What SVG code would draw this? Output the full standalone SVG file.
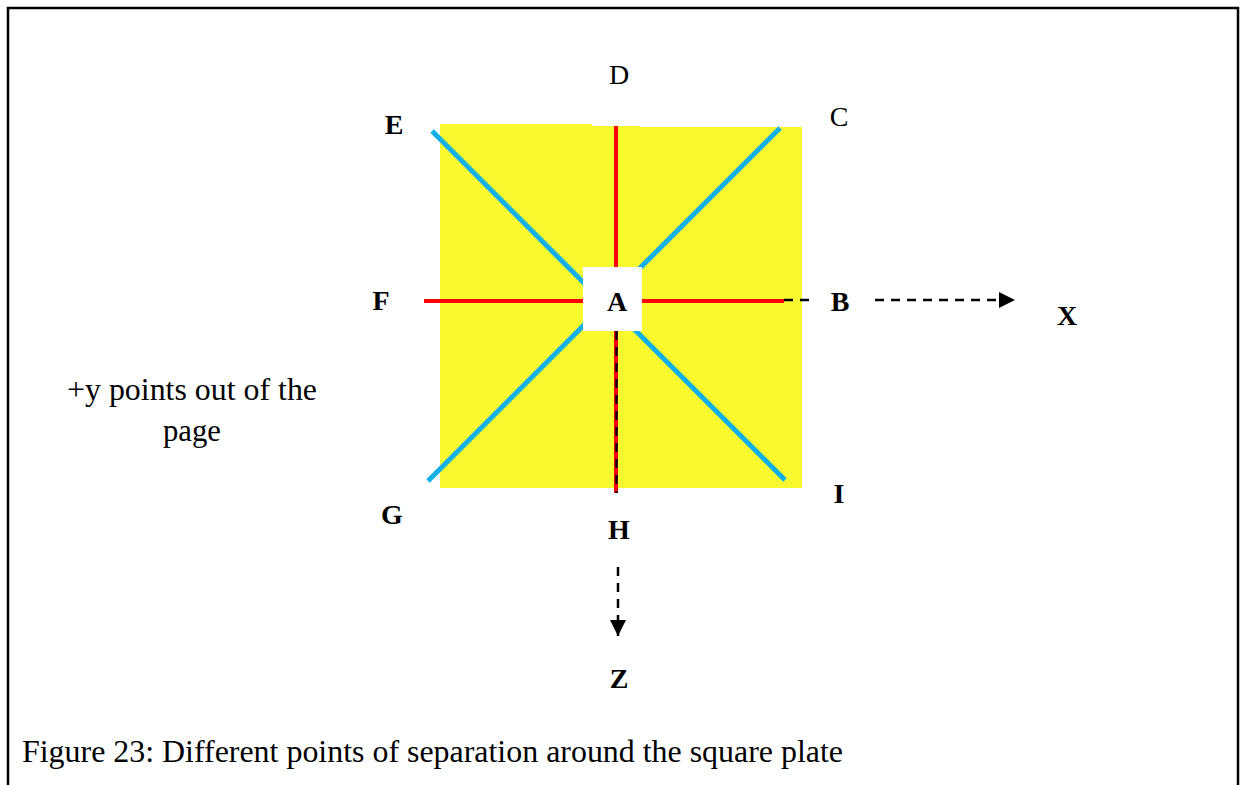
<svg xmlns="http://www.w3.org/2000/svg" width="1240" height="785" viewBox="0 0 1240 785">
<style>
.t{font-family:"Liberation Serif","Times New Roman",serif;fill:#000}
.lb{font-size:28px;font-weight:bold;text-anchor:middle}
.ln{font-size:28px;text-anchor:middle}
.red{stroke:#ff0000;stroke-width:4;fill:none}
.blue{stroke:#12b0e8;stroke-width:5;fill:none}
.dash{stroke:#000;stroke-width:2.5;stroke-dasharray:9,7;fill:none}
</style>
<defs>
<marker id="ah2" viewBox="0 0 10 10" refX="10" refY="5" markerWidth="16" markerHeight="16" markerUnits="userSpaceOnUse" orient="auto">
<path d="M0,0 L10,5 L0,10 z" fill="#000"/>
</marker>
</defs>
<rect width="1240" height="785" fill="#fff"/>
<path d="M8,785 V8 H1238 V785" fill="none" stroke="#000" stroke-width="2.5"/>
<g id="plate">
<rect x="440" y="124" width="152" height="364" fill="#f9f930"/>
<rect x="592" y="126" width="48" height="362" fill="#f9f930"/>
<rect x="640" y="127" width="162" height="361" fill="#f9f930"/>
</g>
<g id="connectors">
<line class="blue" x1="432" y1="131" x2="590" y2="289"/>
<line class="blue" x1="780" y1="128" x2="636" y2="272"/>
<line class="blue" x1="428" y1="481" x2="590" y2="319"/>
<line class="blue" x1="785" y1="480" x2="632" y2="327"/>
<line class="red" x1="616" y1="126" x2="616" y2="493"/>
<line class="red" x1="424" y1="301" x2="784" y2="301"/>
<line class="dash" x1="616.5" y1="331" x2="616.5" y2="493"/>
<line class="dash" x1="784" y1="300" x2="810" y2="300"/>
<line class="dash" x1="875" y1="300" x2="1015" y2="300" marker-end="url(#ah2)"/>
<line class="dash" x1="618" y1="567" x2="618" y2="636" marker-end="url(#ah2)"/>
</g>
<g id="nodeA">
<rect x="583" y="267" width="59" height="64" fill="#fff"/>
<text class="t lb" x="617" y="311">A</text>
</g>
<g id="labels">
<text class="t ln" x="619" y="84">D</text>
<text class="t ln" x="839" y="126">C</text>
<text class="t lb" x="394" y="134">E</text>
<text class="t lb" x="381" y="310">F</text>
<text class="t lb" x="840" y="311">B</text>
<text class="t lb" x="1067" y="325">X</text>
<text class="t lb" x="392" y="524">G</text>
<text class="t lb" x="619" y="539">H</text>
<text class="t lb" x="839" y="503">I</text>
<text class="t lb" x="619" y="688">Z</text>
<text class="t" x="67" y="400" font-size="31" textLength="250" lengthAdjust="spacingAndGlyphs">+y points out of the</text>
<text class="t" x="163" y="441" font-size="31" textLength="58" lengthAdjust="spacingAndGlyphs">page</text>
<text class="t" x="22" y="762" font-size="31" textLength="821" lengthAdjust="spacingAndGlyphs">Figure 23: Different points of separation around the square plate</text>
</g>
</svg>
